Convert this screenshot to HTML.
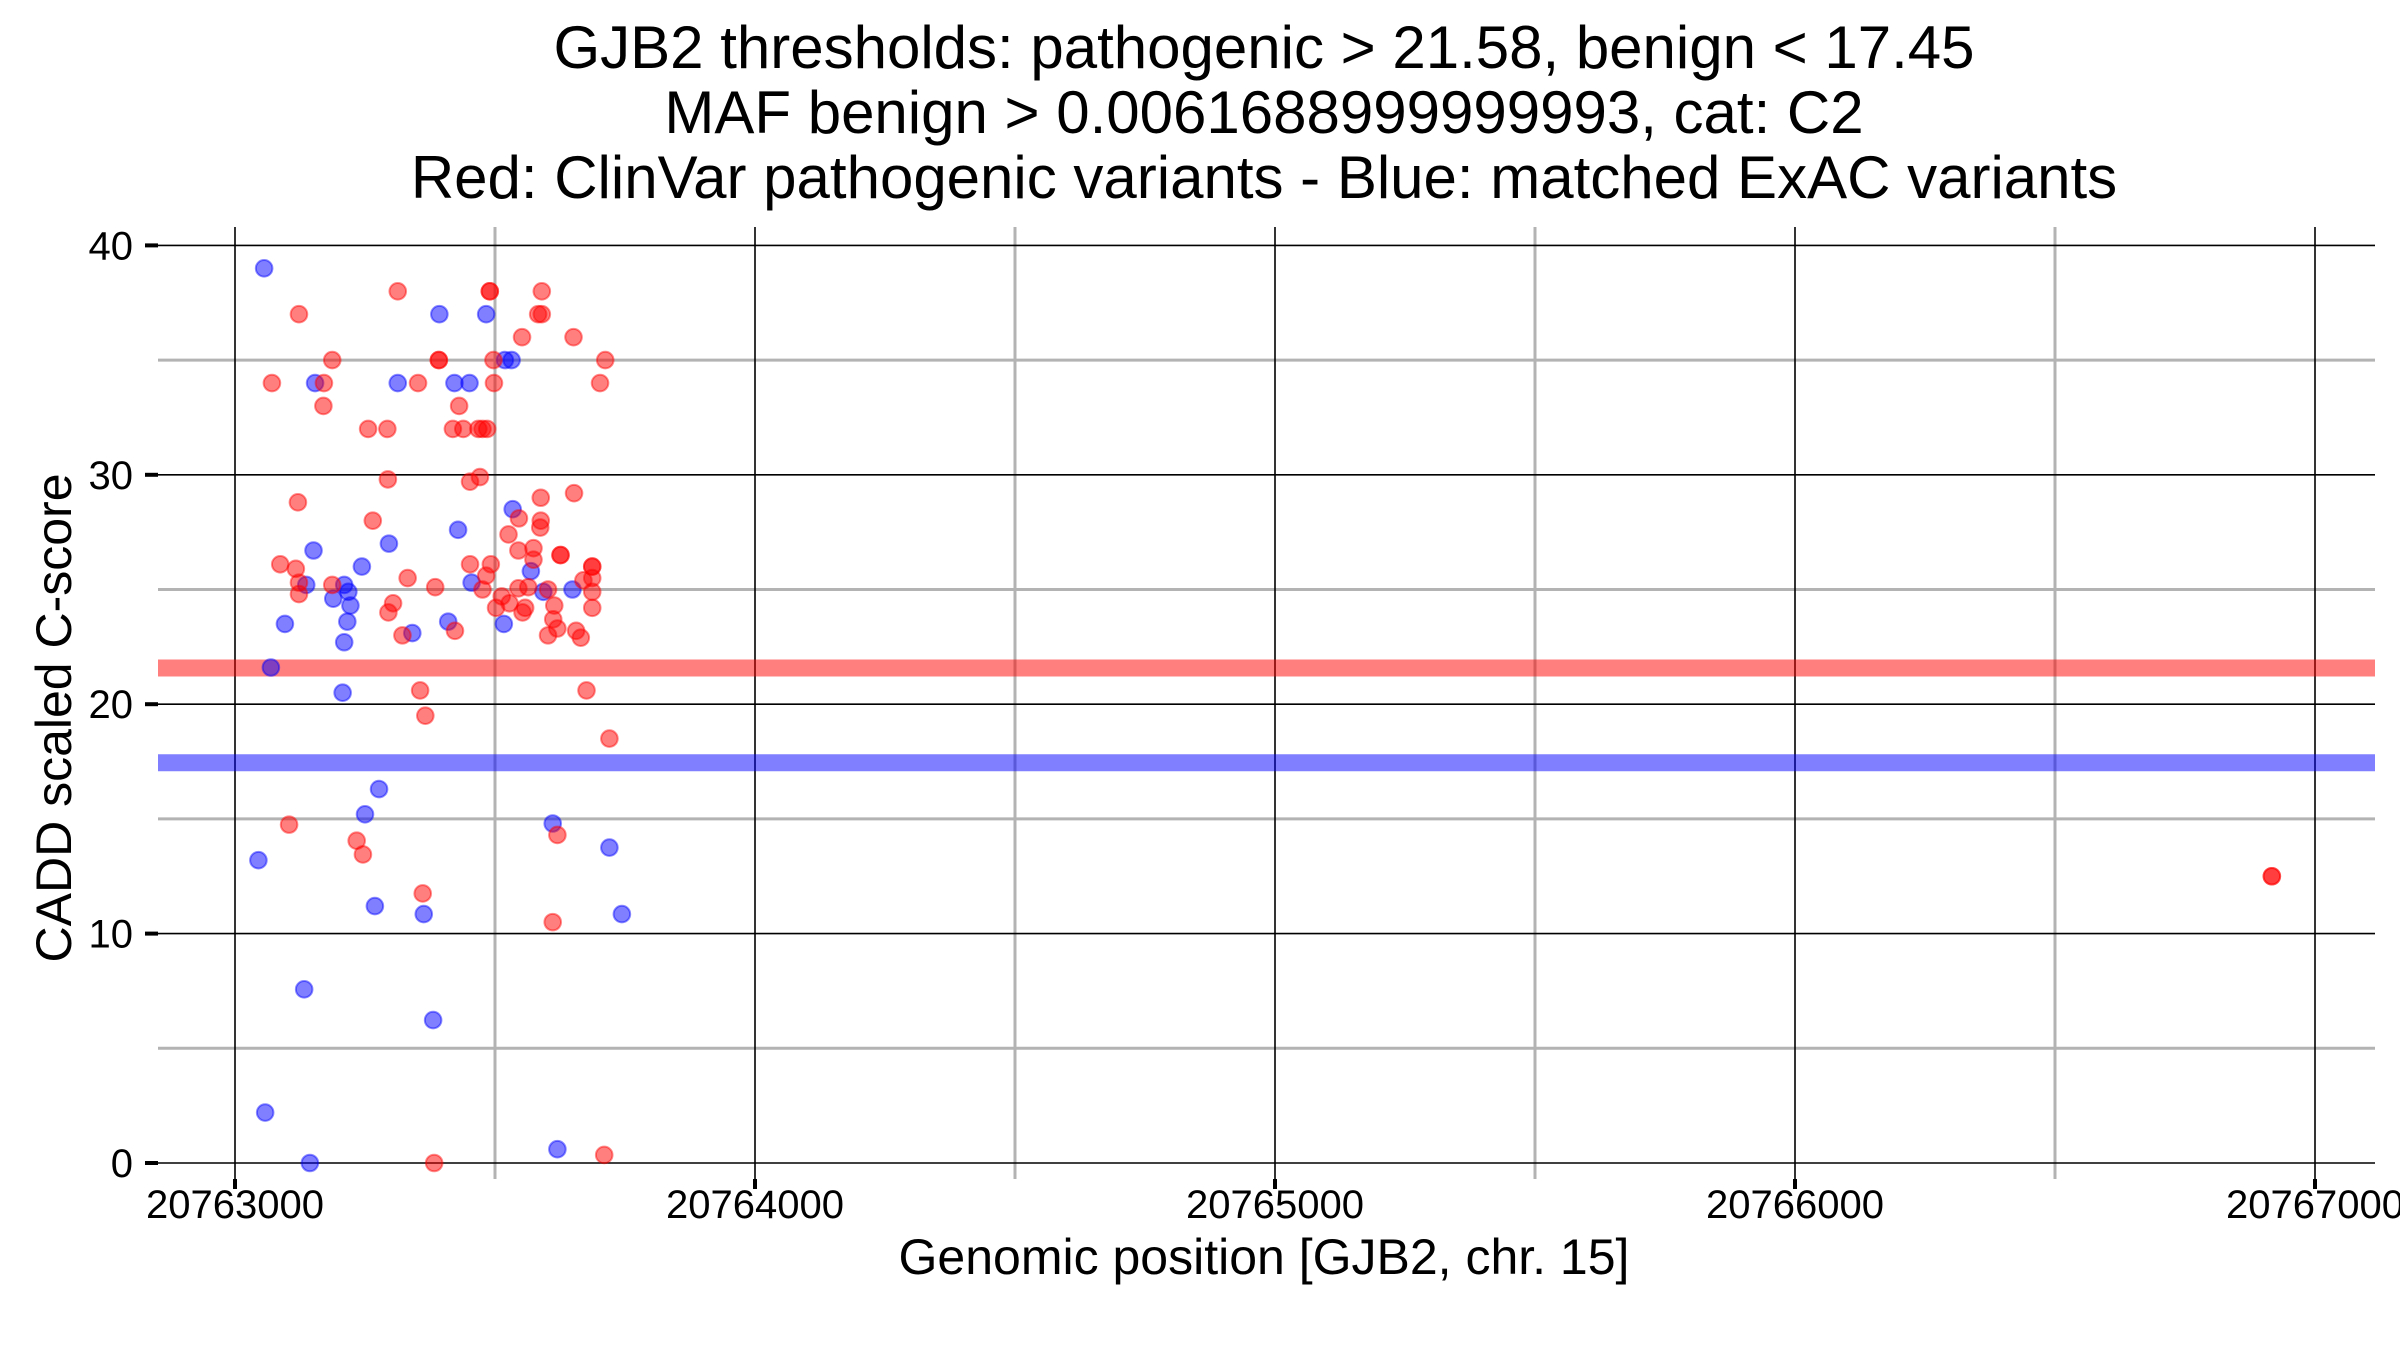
<!DOCTYPE html>
<html><head><meta charset="utf-8"><style>
html,body{margin:0;padding:0;background:#fff;}
svg{display:block;font-family:"Liberation Sans",sans-serif;}
</style></head>
<body>
<svg id="chart" width="2400" height="1350" viewBox="0 0 2400 1350" xmlns="http://www.w3.org/2000/svg">
<rect width="2400" height="1350" fill="#fff"/>
<g font-size="60" text-anchor="middle" fill="#000">
<text x="1264" y="68">GJB2 thresholds: pathogenic &gt; 21.58, benign &lt; 17.45</text>
<text x="1264" y="133">MAF benign &gt; 0.0061688999999993, cat: C2</text>
<text x="1264" y="198">Red: ClinVar pathogenic variants - Blue: matched ExAC variants</text>
</g>
<g id="grid"></g>
<g id="bands"></g>
<g id="points"></g>
<g id="axes" font-size="40" fill="#000"></g>
<text x="1264" y="1274" font-size="50" text-anchor="middle">Genomic position [GJB2, chr. 15]</text>
<text x="0" y="0" font-size="50" text-anchor="middle" transform="translate(71,718) rotate(-90)">CADD scaled C-score</text>
</svg>
<script>
const xMajorTicks = [20763000, 20764000, 20765000, 20766000, 20767000];
const xMinorTicks = [20763500, 20764500, 20765500, 20766500];
const yMajorTicks = [0, 10, 20, 30, 40];
const yMinorTicks = [5, 15, 25, 35];
const thresholdPathogenic = 21.58;
const thresholdBenign = 17.45;
const BASE = 20763000;
// red ClinVar pathogenic: offsets from 20763000 and C-scores
const redOffsets = [313,490,490,590,123,583,590,552,651,187,392,392,497,712,71,171,352,498,702,170,431,256,293,419,439,468,476,485,294,452,471,121,265,588,652,546,588,587,526,545,574,574,626,626,87,117,452,492,687,687,687,670,483,332,385,187,123,123,476,513,545,564,602,687,687,614,304,295,528,502,558,553,322,423,612,620,602,656,665,356,676,366,720,104,620,234,246,361,611,383,710,3917,3917];
const redScores = [38,38,38,38,37,37,37,36,36,35,35,35,35,35,34,34,34,34,34,33,33,32,32,32,32,32,32,32,29.8,29.7,29.9,28.8,28.0,29.0,29.2,28.1,28.0,27.7,27.4,26.7,26.8,26.3,26.5,26.5,26.1,25.9,26.1,26.1,26.0,26.0,25.5,25.4,25.6,25.5,25.1,25.2,25.3,24.8,25.0,24.7,25.05,25.1,25.0,24.9,24.2,24.3,24.4,24.0,24.4,24.2,24.2,24.0,23.0,23.2,23.7,23.3,23.0,23.2,22.9,20.6,20.6,19.5,18.5,14.75,14.3,14.05,13.45,11.75,10.5,0,0.35,12.5,12.5];
// blue matched ExAC
const blueOffsets = [56,393,483,519,532,154,313,422,451,534,429,296,151,244,569,455,210,218,137,593,649,189,222,96,216,210,341,410,517,69,207,277,250,611,720,45,269,363,744,133,381,58,144,620];
const blueScores = [39,37,37,35,35,34,34,34,34,28.5,27.6,27.0,26.7,26.0,25.8,25.3,25.2,24.9,25.2,24.9,25.0,24.6,24.3,23.5,23.6,22.7,23.1,23.6,23.5,21.6,20.5,16.3,15.2,14.8,13.75,13.2,11.2,10.85,10.85,7.57,6.23,2.2,0,0.6];

const NS = 'http://www.w3.org/2000/svg';
const PL = 158, PR = 2375, PT = 227, PB = 1179;
function xs(v){ return 235 + (v - BASE) * 0.52; }
function ys(v){ return 1163 - v * 22.94; }
function mk(tag, attrs, parent){
  const e = document.createElementNS(NS, tag);
  for (const k in attrs) e.setAttribute(k, attrs[k]);
  parent.appendChild(e);
  return e;
}
const grid = document.getElementById('grid');
yMinorTicks.forEach(v => {
  const l = mk('line', {x1:PL, x2:PR, y1:ys(v), y2:ys(v), stroke:'#b3b3b3', 'stroke-width':3}, grid);
  
  
});
xMinorTicks.forEach(v => {
  const l = mk('line', {x1:xs(v), x2:xs(v), y1:PT, y2:PB, stroke:'#b3b3b3', 'stroke-width':3}, grid);
  
  
});
yMajorTicks.forEach(v => {
  const l = mk('line', {x1:PL, x2:PR, y1:ys(v), y2:ys(v), stroke:'#000', 'stroke-width':1.6}, grid);
  
  
});
xMajorTicks.forEach(v => {
  const l = mk('line', {x1:xs(v), x2:xs(v), y1:PT, y2:PB, stroke:'#000', 'stroke-width':1.6}, grid);
  
  
});
const bands = document.getElementById('bands');
const b1 = mk('line', {x1:PL, x2:PR, y1:ys(thresholdPathogenic), y2:ys(thresholdPathogenic), stroke:'rgba(255,0,0,0.5)', 'stroke-width':17}, bands);


const b2 = mk('line', {x1:PL, x2:PR, y1:ys(thresholdBenign), y2:ys(thresholdBenign), stroke:'rgba(0,0,255,0.5)', 'stroke-width':17}, bands);



const pts = document.getElementById('points');
blueOffsets.forEach((o, i) => {
  const c = mk('circle', {cx:xs(BASE + o), cy:ys(blueScores[i]), r:8.3, fill:'rgba(0,0,255,0.5)', stroke:'rgba(0,0,255,0.45)', 'stroke-width':2}, pts);
  
  
});
redOffsets.forEach((o, i) => {
  const c = mk('circle', {cx:xs(BASE + o), cy:ys(redScores[i]), r:8.3, fill:'rgba(255,0,0,0.5)', stroke:'rgba(255,0,0,0.45)', 'stroke-width':2}, pts);
  
  
});

const axes = document.getElementById('axes');
yMajorTicks.forEach(v => {
  const t = mk('line', {x1:145, x2:158, y1:ys(v), y2:ys(v), stroke:'#000', 'stroke-width':4}, axes);
  
  
  const l = mk('text', {x:133, y:ys(v) + 14, 'text-anchor':'end'}, axes);
  l.textContent = String(v);
  
  
});
xMajorTicks.forEach(v => {
  const t = mk('line', {x1:xs(v), x2:xs(v), y1:PB, y2:PB + 10, stroke:'#000', 'stroke-width':4}, axes);
  
  
  const l = mk('text', {x:xs(v), y:1218, 'text-anchor':'middle'}, axes);
  l.textContent = String(v);
  
  
});
</script>
</body></html>
